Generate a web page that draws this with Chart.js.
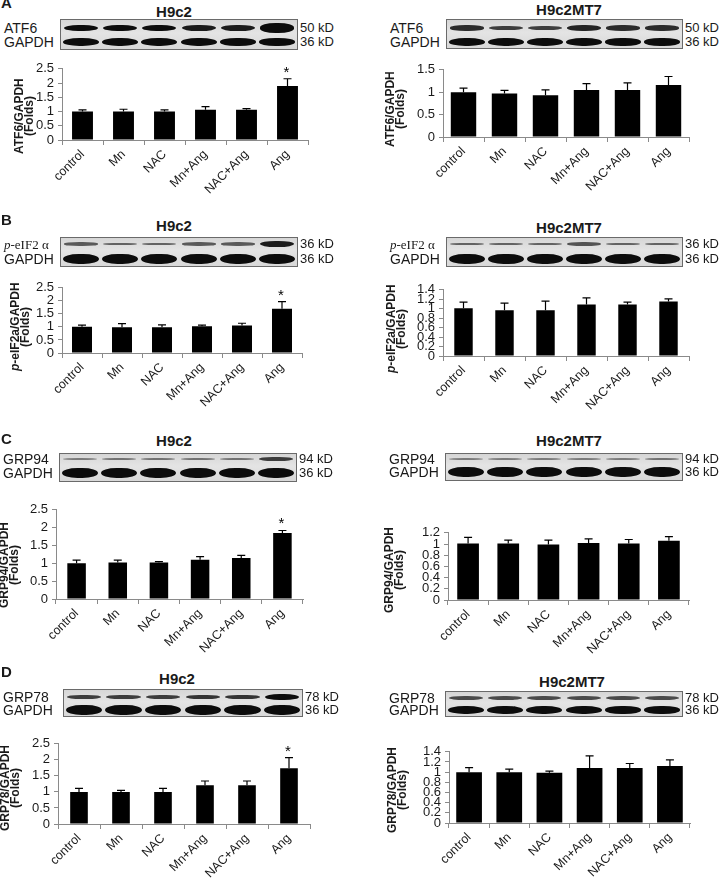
<!DOCTYPE html>
<html>
<head>
<meta charset="utf-8">
<script src="https://cdn.jsdelivr.net/npm/chart.js@4.4.0/dist/chart.umd.min.js"></script>
<style>
    html, body { margin: 0; padding: 0; background: #fff; }
    #fig { position: relative; width: 720px; height: 884px; overflow: hidden; font-family: "Liberation Sans", Arial, sans-serif; color: #1a1a1a; }
    .letter { position: absolute; font-weight: bold; font-size: 15px; line-height: 15px; }
    .title { position: absolute; font-weight: bold; font-size: 15px; line-height: 18px; transform: translateX(-50%); white-space: nowrap; }
    .lbl { position: absolute; font-size: 14px; line-height: 14px; white-space: nowrap; }
    .kd { font-size: 13px; }
    .serif { font-family: "Liberation Serif", "DejaVu Serif", serif; font-size: 13px; }
    .blot { position: absolute; box-sizing: border-box; border: 1px solid #6a6a6a; overflow: hidden;
            background: linear-gradient(#d6d6d6, #e4e4e4 45%, #d8d8d8); }
    .band { position: absolute; border-radius: 45% / 50%; filter: blur(0.7px); }
    .ytitle { position: absolute; writing-mode: vertical-rl; transform: rotate(180deg); font-weight: bold;
              font-size: 12px; line-height: 10px; height: 130px; text-align: center; white-space: nowrap; }
    canvas { position: absolute; }
</style>
</head>
<body>
<div id="fig"></div>
<script>
// ---- dados ----
const categories = ['control', 'Mn', 'NAC', 'Mn+Ang', 'NAC+Ang', 'Ang'];
const sigMarks = ['', '', '', '', '', '*'];
const noMarks = ['', '', '', '', '', ''];

const ticksTo25 = [0, 0.5, 1, 1.5, 2, 2.5];
const ticksTo15 = [0, 0.5, 1, 1.5];
const ticksTo14 = [0, 0.2, 0.4, 0.6, 0.8, 1, 1.2, 1.4];
const ticksTo12 = [0, 0.2, 0.4, 0.6, 0.8, 1, 1.2];

// A - ATF6
const atf6H9c2 = [1.0, 1.0, 1.0, 1.06, 1.06, 1.9];
const atf6H9c2Err = [0.06, 0.08, 0.06, 0.11, 0.04, 0.25];
const atf6Mt7 = [1.0, 0.97, 0.93, 1.05, 1.05, 1.16];
const atf6Mt7Err = [0.09, 0.07, 0.12, 0.14, 0.16, 0.19];
// B - p-eIF2a
const peifH9c2 = [1.01, 0.99, 0.99, 1.03, 1.05, 1.7];
const peifH9c2Err = [0.06, 0.14, 0.09, 0.04, 0.09, 0.27];
const peifMt7 = [1.01, 0.97, 0.97, 1.09, 1.09, 1.15];
const peifMt7Err = [0.13, 0.15, 0.19, 0.14, 0.05, 0.06];
// C - GRP94
const grp94H9c2 = [1.0, 1.02, 1.02, 1.1, 1.15, 1.85];
const grp94H9c2Err = [0.09, 0.07, 0.03, 0.09, 0.07, 0.07];
const grp94Mt7 = [1.01, 1.01, 0.99, 1.02, 1.01, 1.06];
const grp94Mt7Err = [0.11, 0.06, 0.08, 0.07, 0.07, 0.07];
// D - GRP78
const grp78H9c2 = [1.0, 1.0, 1.0, 1.21, 1.21, 1.74];
const grp78H9c2Err = [0.11, 0.05, 0.11, 0.13, 0.13, 0.33];
const grp78Mt7 = [1.0, 1.0, 0.99, 1.08, 1.08, 1.12];
const grp78Mt7Err = [0.09, 0.06, 0.03, 0.24, 0.09, 0.12];

// intensidade relativa das bandas nos blots
const atf6H9c2Band = [1.0, 1.0, 1.0, 0.9, 0.9, 1.4];
const atf6Mt7Band = [0.8, 0.7, 0.7, 0.85, 0.8, 0.8];
const peifH9c2Band = [0.5, 0.45, 0.45, 0.5, 0.5, 0.9];
const peifMt7Band = [0.45, 0.45, 0.45, 0.55, 0.45, 0.45];
const grp94H9c2Band = [0.3, 0.35, 0.35, 0.35, 0.35, 0.7];
const grp94Mt7Band = [0.3, 0.3, 0.3, 0.3, 0.3, 0.35];
const grp78H9c2Band = [0.7, 0.7, 0.7, 0.75, 0.75, 1.0];
const grp78Mt7Band = [0.6, 0.6, 0.6, 0.6, 0.6, 0.6];
const gapdhThin = [1.1, 1.1, 1.1, 1.1, 1.05, 1.05];
const gapdhThick = [1.5, 1.5, 1.5, 1.5, 1.45, 1.45];

Chart.defaults.font.family = '"Liberation Sans", Arial, sans-serif';
const fig = document.getElementById('fig');

function el(cls, html, x, y) {
    const d = document.createElement('div');
    d.className = cls;
    d.innerHTML = html;
    d.style.left = x + 'px';
    d.style.top = y + 'px';
    fig.appendChild(d);
    return d;
}

// barras de erro (só para cima) + asterisco
const errorBarPlugin = {
    id: 'errorBars',
    afterDatasetsDraw(chart) {
        const ctx = chart.ctx;
        const ys = chart.scales.y;
        chart.data.datasets.forEach((ds, di) => {
            chart.getDatasetMeta(di).data.forEach((bar, i) => {
                const top = ys.getPixelForValue(ds.data[i] + ds.errors[i]);
                ctx.save();
                ctx.strokeStyle = '#000';
                ctx.lineWidth = 1.2;
                ctx.beginPath();
                ctx.moveTo(bar.x, bar.y);
                ctx.lineTo(bar.x, top);
                ctx.moveTo(bar.x - 4, top);
                ctx.lineTo(bar.x + 4, top);
                ctx.stroke();
                if (ds.marks[i]) {
                    ctx.fillStyle = '#000';
                    ctx.font = '15px "Liberation Sans"';
                    ctx.textAlign = 'center';
                    ctx.fillText(ds.marks[i], bar.x - 1, top - 2);
                }
                ctx.restore();
            });
        });
    }
};

function addChart(p) {
    const yw = 40, padT = 10, padR = 12, xh = 70;
    const left = p.axisX - yw, top = p.top - padT;
    const w = p.right + padR - left, h = p.bottom - p.top + padT + xh;
    const cv = document.createElement('canvas');
    cv.width = w; cv.height = h;
    cv.style.left = left + 'px'; cv.style.top = top + 'px';
    cv.style.width = w + 'px'; cv.style.height = h + 'px';
    fig.appendChild(cv);

    const axisGray = '#8a8a8a';
    new Chart(cv, {
        type: 'bar',
        data: {
            labels: categories,
            datasets: [{ data: p.values, errors: p.errors, marks: p.marks, backgroundColor: '#000', borderWidth: 0,
                         categoryPercentage: 1, barPercentage: p.barPct }]
        },
        options: {
            responsive: false, animation: false, devicePixelRatio: 1,
            layout: { padding: { left: 0, top: padT, right: padR, bottom: 0 } },
            plugins: { legend: { display: false }, tooltip: { enabled: false } },
            scales: {
                x: {
                    grid: { drawOnChartArea: false, tickLength: 5, color: axisGray },
                    border: { color: axisGray },
                    ticks: { minRotation: 45, maxRotation: 45, autoSkip: false, padding: 2, color: '#1a1a1a', font: { size: 12.5 } },
                    afterFit: s => { s.height = xh; }
                },
                y: {
                    min: 0, max: p.yTicks[p.yTicks.length - 1],
                    grid: { drawOnChartArea: false, tickLength: 4, color: axisGray },
                    border: { color: axisGray },
                    ticks: { autoSkip: false, padding: 4, color: '#1a1a1a', font: { size: 13 },
                             callback: v => String(+v.toFixed(2)) },
                    afterBuildTicks: s => { s.ticks = p.yTicks.map(v => ({ value: v })); },
                    afterFit: s => { s.width = yw; }
                }
            }
        },
        plugins: [errorBarPlugin]
    });

    // título do eixo y (duas linhas, rotacionado)
    el('ytitle', p.yTitle, p.yTitleX - 5, p.yTitleY - 65);
}

function addBlot(b) {
    const box = el('blot', '', b.x, b.y);
    box.style.width = b.w + 'px';
    box.style.height = b.h + 'px';
    const laneW = (b.w - 2) / 6;
    const rows = [
        { vals: b.target, cy: b.ty - b.y - 1, base: 6.5, gap: 5 },
        { vals: b.gapdh, cy: b.gy - b.y - 1, base: 7, gap: 3 }
    ];
    rows.forEach(r => {
        r.vals.forEach((s, i) => {
            const band = document.createElement('div');
            band.className = 'band';
            const bh = Math.max(2, r.base * s);
            band.style.left = (i * laneW + r.gap / 2) + 'px';
            band.style.width = (laneW - r.gap) + 'px';
            band.style.top = (r.cy - bh / 2) + 'px';
            band.style.height = bh + 'px';
            band.style.background = 'rgba(12,12,12,' + Math.min(1, 0.25 + 0.75 * s).toFixed(2) + ')';
            box.appendChild(band);
        });
    });
    el('lbl', b.name, b.labelX, b.ty - 7);
    el('lbl', 'GAPDH', b.labelX, b.gy - 7);
    el('lbl kd', b.kd, b.x + b.w + 2, b.ty - 7);
    el('lbl kd', '36 kD', b.x + b.w + 2, b.gy - 7);
}

function addTitle(text, cx, cy) { el('title', text, cx, cy - 9); }

const peifLabel = '<span class="serif"><i>p</i>-eIF2 α</span>';

// ---- A ----
el('letter', 'A', 1, -5);
addTitle('H9c2', 174, 12);
addTitle('H9c2MT7', 569, 10);
addBlot({ x: 60, y: 19, w: 238, h: 31, ty: 28, gy: 42, target: atf6H9c2Band, gapdh: gapdhThin, name: 'ATF6', kd: '50 kD', labelX: 4 });
addBlot({ x: 446, y: 19, w: 237, h: 30, ty: 28, gy: 42, target: atf6Mt7Band, gapdh: gapdhThin, name: 'ATF6', kd: '50 kD', labelX: 390 });
addChart({ axisX: 62, top: 67, bottom: 140, right: 308, yTicks: ticksTo25, values: atf6H9c2, errors: atf6H9c2Err, marks: sigMarks,
           barPct: 0.51, yTitle: 'ATF6/GAPDH<br>(Folds)', yTitleX: 19, yTitleY: 116 });
addChart({ axisX: 443, top: 68, bottom: 137, right: 689, yTicks: ticksTo15, values: atf6Mt7, errors: atf6Mt7Err, marks: noMarks,
           barPct: 0.62, yTitle: 'ATF6/GAPDH<br>(Folds)', yTitleX: 390, yTitleY: 109 });

// ---- B ----
el('letter', 'B', 1, 212);
addTitle('H9c2', 174, 226);
addTitle('H9c2MT7', 569, 228);
addBlot({ x: 60, y: 237, w: 238, h: 30, ty: 244, gy: 259, target: peifH9c2Band, gapdh: gapdhThick, name: peifLabel, kd: '36 kD', labelX: 4 });
addBlot({ x: 446, y: 237, w: 237, h: 30, ty: 244, gy: 259, target: peifMt7Band, gapdh: gapdhThick, name: peifLabel, kd: '36 kD', labelX: 390 });
addChart({ axisX: 62, top: 286, bottom: 353, right: 302, yTicks: ticksTo25, values: peifH9c2, errors: peifH9c2Err, marks: sigMarks,
           barPct: 0.5, yTitle: '<i>p</i>-eIF2a/GAPDH<br>(Folds)', yTitleX: 15, yTitleY: 327 });
addChart({ axisX: 443, top: 288, bottom: 356, right: 689, yTicks: ticksTo14, values: peifMt7, errors: peifMt7Err, marks: noMarks,
           barPct: 0.45, yTitle: '<i>p</i>-eIF2a/GAPDH<br>(Folds)', yTitleX: 391, yTitleY: 329 });

// ---- C ----
el('letter', 'C', 1, 431);
addTitle('H9c2', 174, 441);
addTitle('H9c2MT7', 569, 441);
addBlot({ x: 59, y: 453, w: 238, h: 29, ty: 459, gy: 473, target: grp94H9c2Band, gapdh: gapdhThick, name: 'GRP94', kd: '94 kD', labelX: 3 });
addBlot({ x: 445, y: 453, w: 238, h: 28, ty: 459, gy: 472, target: grp94Mt7Band, gapdh: gapdhThick, name: 'GRP94', kd: '94 kD', labelX: 389 });
addChart({ axisX: 56, top: 508, bottom: 599, right: 303, yTicks: ticksTo25, values: grp94H9c2, errors: grp94H9c2Err, marks: sigMarks,
           barPct: 0.45, yTitle: 'GRP94/GAPDH<br>(Folds)', yTitleX: 4, yTitleY: 565 });
addChart({ axisX: 448, top: 531, bottom: 600, right: 689, yTicks: ticksTo12, values: grp94Mt7, errors: grp94Mt7Err, marks: noMarks,
           barPct: 0.54, yTitle: 'GRP94/GAPDH<br>(Folds)', yTitleX: 389, yTitleY: 570 });

// ---- D ----
el('letter', 'D', 1, 664);
addTitle('H9c2', 177, 679);
addTitle('H9c2MT7', 572, 682);
addBlot({ x: 63, y: 689, w: 240, h: 28, ty: 697, gy: 710, target: grp78H9c2Band, gapdh: gapdhThick, name: 'GRP78', kd: '78 kD', labelX: 3 });
addBlot({ x: 445, y: 691, w: 238, h: 26, ty: 698, gy: 710, target: grp78Mt7Band, gapdh: gapdhThin, name: 'GRP78', kd: '78 kD', labelX: 389 });
addChart({ axisX: 58, top: 742, bottom: 824, right: 310, yTicks: ticksTo25, values: grp78H9c2, errors: grp78H9c2Err, marks: sigMarks,
           barPct: 0.42, yTitle: 'GRP78/GAPDH<br>(Folds)', yTitleX: 4.5, yTitleY: 788 });
addChart({ axisX: 449, top: 750, bottom: 823, right: 690, yTicks: ticksTo14, values: grp78Mt7, errors: grp78Mt7Err, marks: noMarks,
           barPct: 0.64, yTitle: 'GRP78/GAPDH<br>(Folds)', yTitleX: 391.5, yTitleY: 790 });
</script>
</body>
</html>
